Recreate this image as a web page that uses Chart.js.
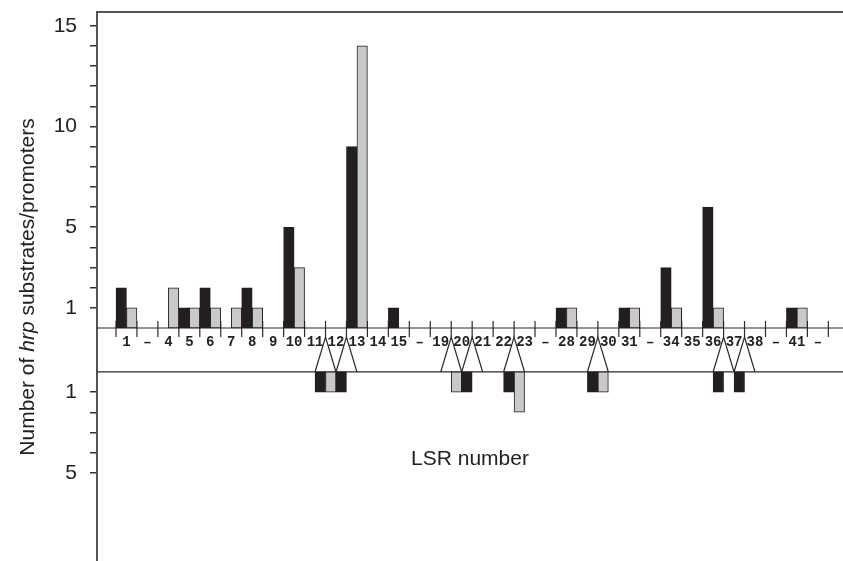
<!DOCTYPE html>
<html>
<head>
<meta charset="utf-8">
<script src="https://cdn.jsdelivr.net/npm/chart.js@4.4.0/dist/chart.umd.min.js"></script>
<style>
  html, body { margin: 0; padding: 0; background: #fff; }
  canvas { display: block; }
</style>
</head>
<body>
<canvas id="lsrChart" width="843" height="561"></canvas>
<script>
// ==============================
// DATA
// ==============================
// one slot per LSR label along the baseline
const lsrLabels = ["1", "–", "4", "5", "6", "7", "8", "9", "10", "11", "12", "13", "14", "15", "–",
  "19", "20", "21", "22", "23", "–", "28", "29", "30", "31", "–", "34", "35", "36", "37", "38", "–", "41", "–"];
const upperBlack = [2, 0, 0, 1, 2, 0, 2, 0, 5, 0, 0, 9, 0, 1, 0,
  0, 0, 0, 0, 0, 0, 1, 0, 0, 1, 0, 3, 0, 6, 0, 0, 0, 1, 0];
const upperGray = [1, 0, 2, 1, 1, 1, 1, 0, 3, 0, 0, 14, 0, 0, 0,
  0, 0, 0, 0, 0, 0, 1, 0, 0, 1, 0, 1, 0, 1, 0, 0, 0, 1, 0];

// lower panel: slot boundaries (between two labels) that fan out below
const lowerPos = [10, 11, 16, 17, 19, 23, 29, 30];
const lowerBlack = [1, 1, 0, 1, 1, 1, 1, 1];
const lowerGray = [1, 0, 1, 0, 2, 1, 0, 0];

// y axis ticks
const upperTickValues = [1, 2, 3, 4, 5, 6, 7, 8, 9, 10, 11, 12, 13, 14, 15];
const upperTickShown = [1, 5, 10, 15];
const lowerTickValues = [1, 2, 3, 4, 5];
const lowerTickShown = [1, 5];

const LOWER_BASE = -2.18;   // where the lower panel's baseline sits on the y scale
const BLACK = "#231f20";
const GRAY = "#c8c9ca";
const LINE = "#2a2a2a";

// ==============================
// DATASETS
// ==============================
const upperBlackData = upperBlack.map((v, i) => v ? { x: i + 0.25, y: v } : null).filter(Boolean);
const upperGrayData = upperGray.map((v, i) => v ? { x: i + 0.75, y: v } : null).filter(Boolean);
const lowerBlackData = lowerBlack.map((v, i) => v ? { x: lowerPos[i] - 0.25, y: [LOWER_BASE, LOWER_BASE - v] } : null).filter(Boolean);
const lowerGrayData = lowerGray.map((v, i) => v ? { x: lowerPos[i] + 0.25, y: [LOWER_BASE, LOWER_BASE - v] } : null).filter(Boolean);

const barStyle = {
  borderColor: BLACK,
  borderWidth: 1,
  borderSkipped: false,
  grouped: false,
  barPercentage: 1,
  categoryPercentage: 1,
};

// ==============================
// DECORATION PLUGIN (baselines, slot ticks, fans, labels, titles)
// ==============================
function line(ctx, x1, y1, x2, y2) {
  ctx.beginPath();
  ctx.moveTo(x1, y1);
  ctx.lineTo(x2, y2);
  ctx.stroke();
}

const lsrDecor = {
  id: "lsrDecor",
  beforeDatasetsDraw(chart) {
    const { ctx, chartArea, scales: { x, y } } = chart;
    const y0 = y.getPixelForValue(0);
    const yLow = y.getPixelForValue(LOWER_BASE);
    ctx.save();
    ctx.strokeStyle = LINE;
    ctx.lineWidth = 1.2;

    // the two baselines
    line(ctx, chartArea.left, y0, chartArea.right, y0);
    line(ctx, chartArea.left, yLow, chartArea.right, yLow);

    // slot boundary ticks
    for (let b = 0; b <= lsrLabels.length; b++) {
      const px = x.getPixelForValue(b);
      line(ctx, px, y0 - 7, px, y0 + 9);
    }

    // fans down to the lower panel
    lowerPos.forEach((b) => {
      const px = x.getPixelForValue(b);
      ctx.beginPath();
      ctx.moveTo(x.getPixelForValue(b - 0.5), yLow);
      ctx.lineTo(px, y0 + 9);
      ctx.lineTo(x.getPixelForValue(b + 0.5), yLow);
      ctx.stroke();
    });
    ctx.restore();
  },
  afterDatasetsDraw(chart) {
    const { ctx, chartArea, scales: { x, y } } = chart;
    const y0 = y.getPixelForValue(0);
    ctx.save();

    // top frame line
    ctx.strokeStyle = "#555";
    ctx.lineWidth = 2;
    line(ctx, chartArea.left, chartArea.top, chartArea.right, chartArea.top);

    // LSR labels under the baseline
    ctx.fillStyle = "#222";
    ctx.textAlign = "center";
    ctx.textBaseline = "middle";
    ctx.font = "bold 14px 'Liberation Mono', 'DejaVu Sans Mono', monospace";
    lsrLabels.forEach((lab, i) => {
      ctx.fillText(lab, x.getPixelForValue(i + 0.5), y0 + 14);
    });

    // x axis title inside the lower panel
    ctx.font = "21px 'Liberation Sans', Arial, sans-serif";
    ctx.fillText("LSR number", 470, 459);

    // y axis title with italic "hrp"
    const parts = [
      { t: "Number of ", f: "21px 'Liberation Sans', Arial, sans-serif" },
      { t: "hrp", f: "italic 21px 'Liberation Sans', Arial, sans-serif" },
      { t: " substrates/promoters", f: "21px 'Liberation Sans', Arial, sans-serif" },
    ];
    let total = 0;
    parts.forEach((p) => { ctx.font = p.f; p.w = ctx.measureText(p.t).width; total += p.w; });
    ctx.translate(28, 287);
    ctx.rotate(-Math.PI / 2);
    ctx.textAlign = "left";
    let cx = -total / 2;
    parts.forEach((p) => { ctx.font = p.f; ctx.fillText(p.t, cx, 0); cx += p.w; });
    ctx.restore();
  },
};

// ==============================
// CHART
// ==============================
const ctx1 = document.getElementById("lsrChart").getContext("2d");
const lsrChart = new Chart(ctx1, {
  type: "bar",
  data: {
    datasets: [
      { ...barStyle, label: "upper black", data: upperBlackData, backgroundColor: BLACK },
      { ...barStyle, label: "upper gray", data: upperGrayData, backgroundColor: GRAY },
      { ...barStyle, label: "lower black", data: lowerBlackData, backgroundColor: BLACK },
      { ...barStyle, label: "lower gray", data: lowerGrayData, backgroundColor: GRAY },
    ],
  },
  options: {
    responsive: false,
    animation: false,
    layout: { padding: { top: 12 } },
    plugins: {
      legend: { display: false },
      tooltip: { enabled: false },
    },
    scales: {
      x: {
        type: "linear",
        display: false,
        offset: false,
        min: -0.907,
        max: 34.7,
        ticks: { stepSize: 1 },
      },
      y: {
        min: -11.56,
        max: 15.68,
        border: { color: "#555", width: 2 },
        grid: { drawOnChartArea: false, tickLength: 7, color: "#333", lineWidth: 1.5 },
        ticks: {
          autoSkip: false,
          padding: 13,
          color: "#222",
          font: { family: "'Liberation Sans', Arial, sans-serif", size: 21 },
          callback: (value) => {
            if (value > 0) return upperTickShown.includes(value) ? String(value) : "";
            const v = Math.round(LOWER_BASE - value);
            return lowerTickShown.includes(v) ? String(v) : "";
          },
        },
        afterBuildTicks: (scale) => {
          const vals = upperTickValues.concat(lowerTickValues.map((v) => LOWER_BASE - v));
          vals.sort((a, b) => a - b);
          scale.ticks = vals.map((v) => ({ value: v }));
        },
        afterFit: (scale) => {
          scale.width = 97;
          scale.paddingTop = 0;
          scale.paddingBottom = 0;
        },
      },
    },
  },
  plugins: [lsrDecor],
});
</script>
</body>
</html>
